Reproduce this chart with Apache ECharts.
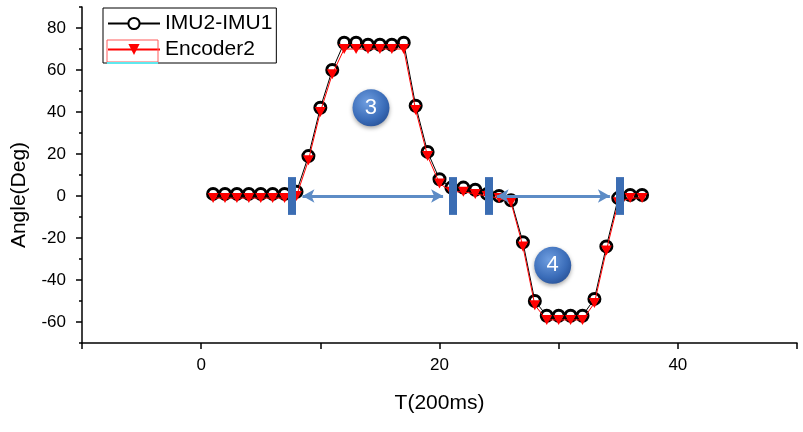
<!DOCTYPE html>
<html>
<head>
<meta charset="utf-8">
<script src="https://cdn.jsdelivr.net/npm/echarts@6/dist/echarts.min.js"></script>
<style>
html,body{margin:0;padding:0;background:#fff;}
#chart{width:803px;height:432px;}
</style>
</head>
<body>
<div id="chart"></div>
<script>
var T = [1,2,3,4,5,6,7,8,9,10,11,12,13,14,15,16,17,18,19,20,21,22,23,24,25,26,27,28,29,30,31,32,33,34,35,36,37];
var imu = [1,1,1,1,1,1,1,2,19,42,60,73,73,72,72,72,73,43,21,8,4,4,3,1,0,-2,-22,-50,-57,-57,-57,-57,-49,-24,-1,0.5,0.5];
var encoder = [-1,-1,-1,-1,-1,-1,-1,0,17,40,58,70,70,70,70,70,70,41,19,6,2,2,1,0,-1,-3,-24,-52,-59,-59,-59,-59,-51,-26,-3,-1,-1];
var yLabels = [-60,-40,-20,0,20,40,60,80];
var xLabels = [0,20,40];
var barsX = [7.6, 21.1, 24.1, 35.1];
var arrows = [[8.5, 20.3], [24.8, 34.3]];
var badges = [{t:14.25, v:42, text:'3'}, {t:29.5, v:-33, text:'4'}];

function pairs(a, b){ return a.map(function(x,i){ return [x, b[i]]; }); }

var font = 'Liberation Sans, Arial, sans-serif';
var chart = echarts.init(document.getElementById('chart'));

var markLines = [];
barsX.forEach(function(x){
  markLines.push([{coord:[x, 9], lineStyle:{width:8, color:'#3b6db3', type:'solid'}, symbol:'none'}, {coord:[x, -9], symbol:'none'}]);
});
arrows.forEach(function(a){
  markLines.push([{coord:[a[0], 0], lineStyle:{width:3, color:'#5d8cc6', type:'solid'}}, {coord:[a[1], 0]}]);
});

var badgeColor = new echarts.graphic.RadialGradient(0.4, 0.35, 0.7, [
  {offset:0, color:'#6f9ee0'}, {offset:0.7, color:'#3a6cb8'}, {offset:1, color:'#2a549a'}
]);

chart.setOption({
  animation:false,
  backgroundColor:'#fff',
  grid:{left:82, right:6, top:7, bottom:89, show:false},
  graphic:[
    {type:'rect', z:100, silent:true, shape:{x:107, y:40, width:51, height:22},
      style:{fill:null, stroke:'#ff5a5a', lineWidth:1}},
    {type:'line', z:100, silent:true, shape:{x1:107, y1:63, x2:158, y2:63},
      style:{stroke:'#5fe8ee', lineWidth:2}}
  ],
  legend:{
    orient:'vertical', left:103, top:8,
    padding:[5,4,3,4], itemGap:5,
    itemWidth:52, itemHeight:14,
    borderColor:'#000', borderWidth:1,
    textStyle:{fontFamily:font, fontSize:21, color:'#000'},
    data:['IMU2-IMU1','Encoder2']
  },
  xAxis:{
    type:'value', min:-10, max:50, interval:10,
    name:'T(200ms)', nameLocation:'middle', nameGap:50,
    nameTextStyle:{fontFamily:font, fontSize:21, color:'#000'},
    axisLine:{onZero:false, lineStyle:{color:'#000', width:1.5}},
    axisTick:{length:6, lineStyle:{color:'#000', width:1.5}},
    axisLabel:{fontFamily:font, fontSize:17, color:'#000', margin:14,
      formatter:function(v){ return xLabels.indexOf(v) >= 0 ? String(v) : ''; }},
    splitLine:{show:false}
  },
  yAxis:[{
    type:'value', min:-70, max:90, interval:10,
    name:'Angle(Deg)', nameLocation:'middle', nameGap:52,
    nameTextStyle:{fontFamily:font, fontSize:21, color:'#000', padding:[0,40,0,0]},
    axisLine:{onZero:false, lineStyle:{color:'#000', width:1.5}},
    axisTick:{length:3, lineStyle:{color:'#000', width:1.5}},
    axisLabel:{fontFamily:font, fontSize:17, color:'#000', margin:16,
      formatter:function(v){ return yLabels.indexOf(v) >= 0 ? String(v) : ''; }},
    splitLine:{show:false}
  },{
    type:'value', min:-70, max:90, interval:20, position:'left',
    axisLine:{show:false, onZero:false},
    axisTick:{show:true, length:6, customValues:yLabels, lineStyle:{color:'#000', width:1.5}},
    axisLabel:{show:false},
    splitLine:{show:false}
  }],
  series:[{
    name:'IMU2-IMU1', type:'line', data:pairs(T, imu),
    symbol:'circle', symbolSize:11,
    itemStyle:{color:'#fff', borderColor:'#000', borderWidth:3},
    lineStyle:{color:'#000', width:1},
    z:2
  },{
    name:'Encoder2', type:'line', data:pairs(T, encoder),
    symbol:'triangle', symbolRotate:180, symbolSize:[11,10],
    itemStyle:{color:'#ff0000', borderColor:'#e00000', borderWidth:0},
    lineStyle:{color:'#ff0000', width:1},
    z:3
  },{
    name:'annot', type:'line', data:[], z:5,
    markLine:{
      silent:true, symbol:['arrow','arrow'], symbolSize:[10,12],
      label:{show:false}, animation:false,
      data:markLines
    },
    markPoint:{
      silent:true, animation:false,
      data:badges.map(function(b){
        return {coord:[b.t, b.v], value:b.text, symbol:'circle', symbolSize:37,
          itemStyle:{color:badgeColor, shadowBlur:4, shadowColor:'rgba(0,0,0,0.35)', shadowOffsetY:2},
          label:{show:true, formatter:b.text, color:'#fff', fontSize:22, fontFamily:font}};
      })
    }
  }]
});
</script>
</body>
</html>
